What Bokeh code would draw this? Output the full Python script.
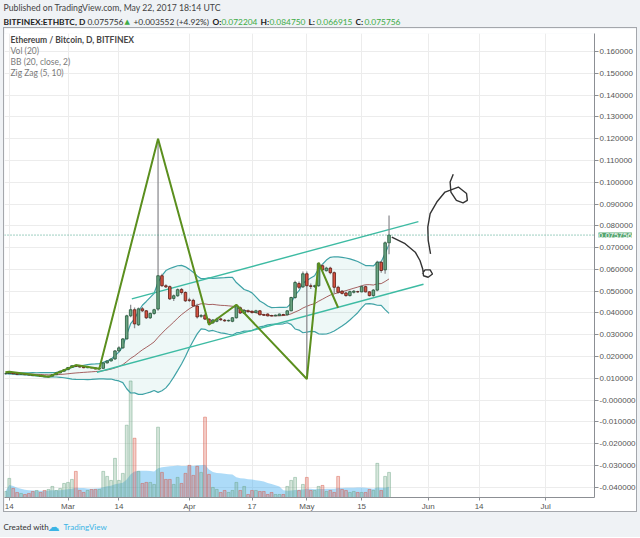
import pandas as pd
from bokeh.plotting import figure
from bokeh.models import Range1d, FixedTicker, Label, Span, ColumnDataSource, Spacer
from bokeh.layouts import column, row
from bokeh.embed import file_html
from bokeh.resources import INLINE
from bokeh.core.properties import value

# ---------------- data (day 0 = 14 Feb 2017) ----------------
days = list(range(-1, 98))
opens = [0.0121, 0.0122, 0.0125, 0.0121, 0.0119, 0.0120, 0.0117, 0.0116, 0.0113, 0.0114,
         0.0110, 0.0108, 0.0110, 0.0117, 0.0125, 0.0133, 0.0140, 0.0150, 0.0158, 0.0155,
         0.0152, 0.0149, 0.0150, 0.0148, 0.0143, 0.0146, 0.0171, 0.0180, 0.0189, 0.0226,
         0.0240, 0.0281, 0.0387, 0.0415, 0.0346, 0.0419, 0.0410, 0.0378, 0.0398, 0.0418,
         0.0571, 0.0525, 0.0521, 0.0467, 0.0479, 0.0508, 0.0494, 0.0460, 0.0458, 0.0432,
         0.0385, 0.0390, 0.0372, 0.0355, 0.0362, 0.0373, 0.0367, 0.0364, 0.0362, 0.0378,
         0.0424, 0.0399, 0.0410, 0.0408, 0.0402, 0.0410, 0.0392, 0.0395, 0.0388, 0.0387,
         0.0388, 0.0393, 0.0392, 0.0410, 0.0471, 0.0535, 0.0520, 0.0580, 0.0525, 0.0522,
         0.0525, 0.0617, 0.0594, 0.0606, 0.0585, 0.0518, 0.0500, 0.0492, 0.0480, 0.0495,
         0.0498, 0.0497, 0.0521, 0.0497, 0.0480, 0.0505, 0.0633, 0.0598, 0.072204]
highs = [0.0124, 0.0127, 0.0126, 0.0123, 0.0122, 0.0121, 0.0119, 0.0118, 0.0116, 0.0115,
         0.0112, 0.0112, 0.0119, 0.0127, 0.0135, 0.0142, 0.0152, 0.0159, 0.0161, 0.0157,
         0.0154, 0.0152, 0.0152, 0.0150, 0.0148, 0.0173, 0.0183, 0.0192, 0.0230, 0.0247,
         0.0285, 0.0392, 0.0438, 0.0425, 0.0425, 0.0428, 0.0414, 0.0402, 0.0420, 0.1200,
         0.0580, 0.0532, 0.0526, 0.0485, 0.0512, 0.0515, 0.0500, 0.0470, 0.0465, 0.0442,
         0.0395, 0.0398, 0.0376, 0.0372, 0.0378, 0.0378, 0.0372, 0.0370, 0.0382, 0.0438,
         0.0430, 0.0418, 0.0416, 0.0412, 0.0415, 0.0414, 0.0396, 0.0399, 0.0392, 0.0393,
         0.0398, 0.0396, 0.0413, 0.0475, 0.0548, 0.0545, 0.0590, 0.0590, 0.0535, 0.0530,
         0.0631, 0.0625, 0.0612, 0.0612, 0.0590, 0.0525, 0.0505, 0.0498, 0.0503, 0.0505,
         0.0502, 0.0528, 0.0526, 0.0500, 0.0510, 0.0640, 0.0640, 0.0728, 0.084750]
lows = [0.0119, 0.0120, 0.0119, 0.0118, 0.0117, 0.0116, 0.0115, 0.0112, 0.0112, 0.0109,
        0.0107, 0.0107, 0.0109, 0.0116, 0.0123, 0.0131, 0.0138, 0.0148, 0.0152, 0.0150,
        0.0147, 0.0147, 0.0146, 0.0142, 0.0141, 0.0145, 0.0168, 0.0177, 0.0186, 0.0220,
        0.0236, 0.0278, 0.0380, 0.0330, 0.0340, 0.0405, 0.0372, 0.0372, 0.0392, 0.0410,
        0.0520, 0.0515, 0.0460, 0.0455, 0.0475, 0.0485, 0.0450, 0.0450, 0.0428, 0.0375,
        0.0378, 0.0368, 0.0346, 0.0350, 0.0358, 0.0365, 0.0360, 0.0360, 0.0358, 0.0375,
        0.0395, 0.0396, 0.0402, 0.0398, 0.0400, 0.0388, 0.0386, 0.0384, 0.0384, 0.0385,
        0.0386, 0.0388, 0.0389, 0.0408, 0.0465, 0.0510, 0.0515, 0.0097, 0.0510, 0.0515,
        0.0520, 0.0590, 0.0590, 0.0578, 0.0488, 0.0490, 0.0485, 0.0475, 0.0476, 0.0490,
        0.0493, 0.0495, 0.0494, 0.0476, 0.0475, 0.0500, 0.0585, 0.0580, 0.066915]
closes = [0.0122, 0.0125, 0.0121, 0.0119, 0.0120, 0.0117, 0.0116, 0.0113, 0.0114, 0.0110,
          0.0108, 0.0110, 0.0117, 0.0125, 0.0133, 0.0140, 0.0150, 0.0158, 0.0155, 0.0152,
          0.0149, 0.0150, 0.0148, 0.0143, 0.0146, 0.0171, 0.0180, 0.0189, 0.0226, 0.0240,
          0.0281, 0.0387, 0.0415, 0.0350, 0.0419, 0.0410, 0.0378, 0.0398, 0.0415, 0.0571,
          0.0525, 0.0520, 0.0465, 0.0479, 0.0507, 0.0494, 0.0456, 0.0458, 0.0432, 0.0382,
          0.0388, 0.0372, 0.0355, 0.0368, 0.0371, 0.0369, 0.0364, 0.0366, 0.0378, 0.0433,
          0.0400, 0.0412, 0.0406, 0.0402, 0.0410, 0.0392, 0.0390, 0.0387, 0.0387, 0.0390,
          0.0395, 0.0390, 0.0410, 0.0471, 0.0540, 0.0518, 0.0580, 0.0525, 0.0522, 0.0525,
          0.0627, 0.0598, 0.0606, 0.0585, 0.0518, 0.0495, 0.0490, 0.0480, 0.0498, 0.0500,
          0.0497, 0.0521, 0.0497, 0.0480, 0.0505, 0.0633, 0.0595, 0.0722, 0.075756]
volumes = [6, 19, 9, 5, 4, 3, 4, 6, 7, 5,
           7, 8, 11, 7, 9, 14, 15, 18, 26, 7,
           5, 7, 8, 8, 8, 26, 21, 17, 39, 17,
           24, 72, 116, 59, 26, 14, 15, 15, 13, 70,
           25, 18, 18, 13, 20, 14, 24, 32, 22, 31,
           25, 80, 23, 10, 8, 5, 7, 5, 7, 15,
           7, 11, 3, 7, 7, 6, 6, 3, 5, 3,
           3, 3, 11, 17, 20, 7, 13, 20, 7, 7,
           11, 12, 6, 7, 5, 21, 8, 7, 5, 6,
           5, 5, 5, 8, 7, 34, 7, 21, 25]

zz_days = [-1, 0, 10, 17, 23, 38, 51, 58, 76, 79, 84]
zz_vals = [0.0128, 0.0130, 0.0107, 0.0161, 0.0144, 0.1200, 0.0346, 0.0438, 0.0097, 0.0631, 0.0424]

chan_up_days = [31.3, 104.5]
chan_up_vals = [0.0465, 0.0819]
chan_lo_days = [22.4, 105.8]
chan_lo_vals = [0.0128, 0.0532]

doodle1_days = [97.7, 101.1, 103.7, 104.9, 105.6, 105.8, 107.0, 108.1, 107.5, 106.2, 105.5]
doodle1_vals = [0.0748, 0.0718, 0.0679, 0.0641, 0.0602, 0.0571, 0.0564, 0.0579, 0.0598, 0.0598, 0.0581]
doodle2_days = [107.6, 107.0, 106.9, 107.5, 109.2, 111.3, 114.7, 116.8, 117.0, 115.9, 114.2, 112.8, 112.6, 113.4]
doodle2_vals = [0.0671, 0.0733, 0.0794, 0.0856, 0.0909, 0.0955, 0.0978, 0.0948, 0.0917, 0.0905, 0.0917, 0.0955, 0.1001, 0.1037]

last_close = 0.075756

x_tick_days = [0, 15, 28, 46, 62, 76, 90, 107, 120, 137]
x_tick_labels = ["14", "Mar", "14", "Apr", "17", "May", "15", "Jun", "14", "Jul"]
y_tick_vals = [-0.04, -0.03, -0.02, -0.01, 0.0, 0.01, 0.02, 0.03, 0.04, 0.05, 0.06,
               0.07, 0.08, 0.09, 0.1, 0.11, 0.12, 0.13, 0.14, 0.15, 0.16, 0.17]
y_tick_labels = ["-0.040000", "-0.030000", "-0.020000", "-0.010000", "-0.000000",
                 "0.010000", "0.020000", "0.030000", "0.040000", "0.050000", "0.060000",
                 "0.070000", "0.080000", "0.090000", "0.100000", "0.110000", "0.120000",
                 "0.130000", "0.140000", "0.150000", "0.160000", "0.170000"]

# ---------------- derived indicators ----------------
cs = pd.Series(closes)
bb_basis = cs.rolling(20, min_periods=1).mean()
bb_dev = cs.rolling(20, min_periods=1).std(ddof=0).fillna(0)
bb_upper = bb_basis + 2 * bb_dev
bb_lower = bb_basis - 2 * bb_dev
vol_ma = pd.Series(volumes).rolling(20, min_periods=1).mean()

UP, DN = "#6ba583", "#d75442"
UP_LINE, DN_LINE = "#225437", "#5b1a13"
up = [c >= o for o, c in zip(opens, closes)]
src = ColumnDataSource(dict(
    d=days, o=opens, h=highs, l=lows, c=closes,
    top=[max(o, c) for o, c in zip(opens, closes)],
    bot=[min(o, c) for o, c in zip(opens, closes)],
    fill=[UP if u else DN for u in up],
    line=[UP_LINE if u else DN_LINE for u in up],
    vol=volumes, vma=list(vol_ma),
    bbu=list(bb_upper), bbl=list(bb_lower), bbm=list(bb_basis),
))

BG = "#eff2f5"
W = 640
KX = 3.935      # px per day
KY = 2170.0     # px per price unit
AX_R, AX_B = 41, 13
MW, MH = 634, 485          # main chart content (plus 1px css border each side)
FRAME_BOTTOM = 496         # page y of the frame's bottom edge (below it: time axis)
frame_w = MW - AX_R
frame_h = 462
x0 = -1.22
x1 = x0 + frame_w / KX
y0 = -0.0465 + (500 - FRAME_BOTTOM) / KY
y1 = y0 + frame_h / KY
FONT = "Lato"

# ---------------- header ----------------
HH = 27
hdr = figure(width=W, height=HH, x_range=Range1d(0, W), y_range=Range1d(0, HH),
             output_backend="svg", toolbar_location=None,
             x_axis_location=None, y_axis_location=None, min_border=0,
             background_fill_color=BG, border_fill_color=BG, outline_line_color=None)
hdr.grid.visible = False
hdr.text(x=[3], y=[HH - 7], text=["Published on TradingView.com, May 22, 2017 18:14 UTC"],
         text_font=value(FONT), text_font_size="8.7px", text_color="#444444",
         text_baseline="middle")
GREEN = "#3dab45"
pieces = [
    ("BITFINEX:ETHBTC, D", 3, "#222222", "bold"),
    ("0.075756", 87, "#333333", "normal"),
    ("+0.003552 (+4.92%)", 133, "#333333", "normal"),
    ("O:", 212, "#222222", "bold"), ("0.072204", 221, GREEN, "normal"),
    ("H:", 260, "#222222", "bold"), ("0.084750", 269, GREEN, "normal"),
    ("L:", 308, "#222222", "bold"), ("0.066915", 316, GREEN, "normal"),
    ("C:", 355, "#222222", "bold"), ("0.075756", 364, GREEN, "normal"),
]
hsrc = ColumnDataSource(dict(t=[q[0] for q in pieces], x=[q[1] for q in pieces],
                             y=[HH - 21] * len(pieces), col=[q[2] for q in pieces],
                             st=[q[3] for q in pieces]))
hdr.text(x="x", y="y", text="t", source=hsrc, text_font=value(FONT), text_font_size="8.4px",
         text_color="col", text_font_style="st", text_baseline="middle")
hdr.text(x=[124], y=[HH - 21], text=["\u25B2"], text_font=value("DejaVu Sans"),
         text_font_size="7px", text_color=GREEN, text_baseline="middle")

# ---------------- main chart ----------------
p = figure(width=MW, height=MH, x_range=Range1d(x0, x1), y_range=Range1d(y0, y1),
           output_backend="svg", toolbar_location=None, y_axis_location="right",
           min_border_left=0, min_border_top=0, min_border_right=AX_R, min_border_bottom=AX_B,
           background_fill_color="white", border_fill_color="white", outline_line_color=None)
p.styles = {"border": "1px solid #a4a7ac"}
p.extra_y_ranges = {"vol": Range1d(0, frame_h)}

for ax in (p.xaxis[0], p.yaxis[0]):
    ax.major_label_text_font = "Liberation Sans"
    ax.major_label_text_font_size = "8px"
    ax.major_label_text_color = "#555555"
    ax.axis_line_color = "#8c8f94"
    ax.major_tick_line_color = "#8c8f94"
    ax.major_tick_in = 0
    ax.minor_tick_line_color = None
    ax.major_label_standoff = 1
p.yaxis.major_tick_out = 4
p.xaxis.major_tick_out = 3
p.yaxis.ticker = FixedTicker(ticks=y_tick_vals)
p.yaxis.major_label_overrides = dict(zip(y_tick_vals, y_tick_labels))
p.xaxis.ticker = FixedTicker(ticks=x_tick_days)
p.xaxis.major_label_overrides = dict(zip(x_tick_days, x_tick_labels))
p.grid.grid_line_color = "#ececec"

# volume pane
p.varea(x="d", y1=0, y2="vma", source=src, y_range_name="vol",
        fill_color="#49b0f0", fill_alpha=0.45)
p.vbar(x="d", width=0.72, top="vol", bottom=0, source=src, y_range_name="vol",
       fill_color="fill", fill_alpha=0.28, line_color="fill", line_alpha=0.45)

# Bollinger bands
p.varea(x="d", y1="bbl", y2="bbu", source=src, fill_color="#26a69a", fill_alpha=0.08)
p.line(x="d", y="bbu", source=src, line_color="#3fa2a6", line_width=1.2)
p.line(x="d", y="bbl", source=src, line_color="#3fa2a6", line_width=1.2)
p.line(x="d", y="bbm", source=src, line_color="#8c2f2f", line_width=1, line_alpha=0.75)

# parallel channel
p.line(chan_up_days, chan_up_vals, line_color="#3dbba3", line_width=1.4)
p.line(chan_lo_days, chan_lo_vals, line_color="#3dbba3", line_width=1.4)

# candles
p.segment(x0="d", y0="l", x1="d", y1="h", source=src, line_color="#8f8f93", line_width=1.3)
p.vbar(x="d", width=0.66, top="top", bottom="bot", source=src,
       fill_color="fill", line_color="line", line_width=0.8)

# zig zag
p.line(zz_days, zz_vals, line_color="#5b8f1e", line_width=2)

# hand drawn marks
p.line(doodle1_days, doodle1_vals, line_color="#333333", line_width=1.4)
p.line(doodle2_days, doodle2_vals, line_color="#333333", line_width=1.4)

# last price line and its label on the price scale (label lives in a thin panel above
# the frame so that it is not clipped; x is measured from the frame's left edge)
p.add_layout(Span(location=last_close, dimension="width", line_color="#3e9f83",
                  line_dash="1 2", line_width=1))
p.add_layout(Label(x=frame_w + 1, x_units="screen", y=last_close, text="0.075756",
                   text_align="left", text_baseline="middle", text_font="Liberation Sans",
                   text_font_size="8px", text_color="white",
                   background_fill_color="#55a56f"), "above")

legend_items = [("Ethereum / Bitcoin, D, BITFINEX", "bold", "#454545", 40.5),
                ("Vol (20)", "normal", "#7a7a7a", 51.5),
                ("BB (20, close, 2)", "normal", "#7a7a7a", 62.3),
                ("Zig Zag (5, 10)", "normal", "#7a7a7a", 73)]
for txt, style, col, page_y in legend_items:
    p.add_layout(Label(x=6, x_units="screen", y=y0 + (FRAME_BOTTOM - page_y) / KY, text=txt,
                       text_font=FONT, text_font_size="8.5px", text_font_style=style,
                       text_color=col, text_baseline="middle"))

# ---------------- footer ----------------
FH = 537 - HH - (MH + 2)
ftr = figure(width=W, height=FH, x_range=Range1d(0, W), y_range=Range1d(0, FH),
             output_backend="svg", toolbar_location=None,
             x_axis_location=None, y_axis_location=None, min_border=0,
             background_fill_color=BG, border_fill_color=BG, outline_line_color=None)
ftr.grid.visible = False
ftr.text(x=[3], y=[FH - 12], text=["Created with"], text_font=value(FONT),
         text_font_size="8px", text_color="#333333", text_baseline="middle")
ftr.text(x=[47], y=[FH - 12], text=["\u2601"], text_font=value("DejaVu Sans"),
         text_font_size="12px", text_color="#3bb4e5", text_baseline="middle")
ftr.text(x=[63], y=[FH - 12], text=["TradingView"], text_font=value(FONT),
         text_font_size="8px", text_color="#3bb4e5", text_baseline="middle")

mid = row(Spacer(width=3, height=MH + 2, styles={"background-color": BG}), p, spacing=0)
layout = column(hdr, mid, ftr, spacing=0, styles={"background-color": BG})
open("out.html", "w").write(file_html(layout, INLINE))
